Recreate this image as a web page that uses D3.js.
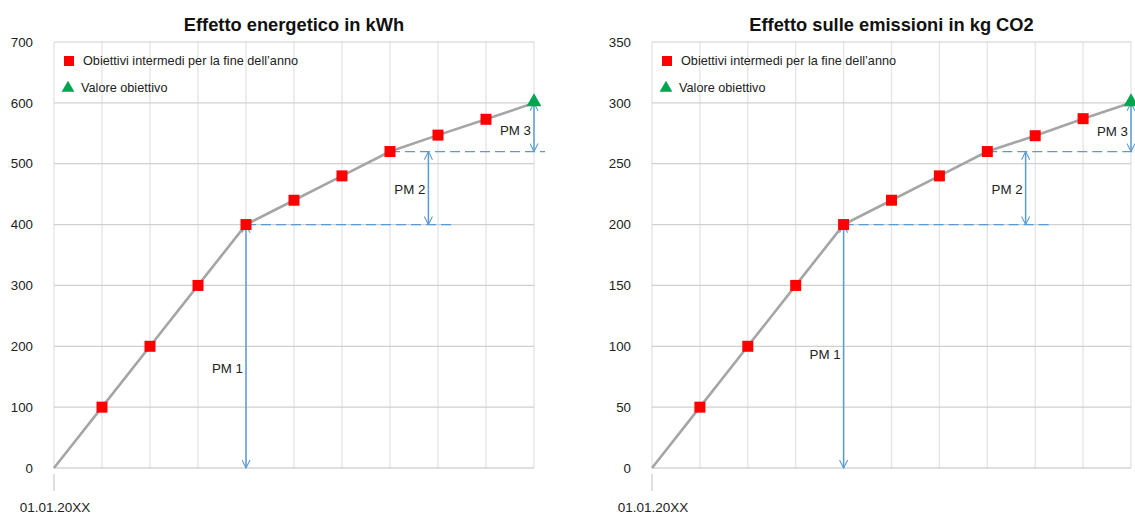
<!DOCTYPE html>
<html lang="it">
<head>
<meta charset="utf-8">
<script src="https://d3js.org/d3.v7.min.js"></script>
<style>
  body { margin: 0; background: #fff; }
  text { font-family: "Liberation Sans", Arial, sans-serif; fill: #222; }
</style>
</head>
<body>
<svg id="main" width="1135" height="515"></svg>
<script>
// data
const steps = [0, 1, 2, 3, 4, 5, 6, 7, 8, 9, 10];
const energyValues = [0, 100, 200, 300, 400, 440, 480, 520, 547, 573, 600];
const co2Values = [0, 50, 100, 150, 200, 220, 240, 260, 273, 287, 300];
const energyTicks = [0, 100, 200, 300, 400, 500, 600, 700];
const co2Ticks = [0, 50, 100, 150, 200, 250, 300, 350];
const titles = ["Effetto energetico in kWh", "Effetto sulle emissioni in kg CO2"];
const legendLabels = ["Obiettivi intermedi per la fine dell\u2019anno", "Valore obiettivo"];
const startLabel = "01.01.20XX";
// milestones: PM1 from step 4, PM2 from 4 to 7, PM3 from 7 to 10
const milestoneLabels = ["PM 1", "PM 2", "PM 3"];

const svg = d3.select("svg#main");
const blue = "#5b9bd5";

svg.append("defs").append("marker")
  .attr("id", "vhead")
  .attr("viewBox", "0 0 10 10")
  .attr("refX", 9).attr("refY", 5)
  .attr("markerWidth", 9).attr("markerHeight", 9)
  .attr("markerUnits", "userSpaceOnUse")
  .attr("orient", "auto-start-reverse")
  .append("path")
  .attr("d", "M0,0.5 L9,5 L0,9.5")
  .attr("fill", "none").attr("stroke", blue).attr("stroke-width", 1.2);

function drawChart(left, right, values, ticks, title, yMax, labelPos, dashEnd) {
  const g = svg.append("g");
  const x = d3.scaleLinear().domain([0, 10]).range([left, right]);
  const y = d3.scaleLinear().domain([0, yMax]).range([468, 42]);

  // vertical grid
  g.selectAll(".vg").data(steps).enter().append("line")
    .attr("x1", d => x(d)).attr("x2", d => x(d))
    .attr("y1", y(0)).attr("y2", y(yMax))
    .attr("stroke", "#e4e4e4").attr("stroke-width", 1.3);

  // horizontal grid
  g.selectAll(".hg").data(ticks).enter().append("line")
    .attr("x1", x(0)).attr("x2", x(10))
    .attr("y1", d => y(d)).attr("y2", d => y(d))
    .attr("stroke", d => d === 0 ? "#bfbfbf" : "#d0d0d0").attr("stroke-width", 1.2);

  // y tick labels
  g.selectAll(".yl").data(ticks).enter().append("text")
    .attr("x", x(0) - 21).attr("y", d => y(d)).attr("dy", "0.35em")
    .attr("text-anchor", "end").attr("font-size", 13.3).text(d => d);

  // x start tick
  g.append("line").attr("x1", x(0)).attr("x2", x(0)).attr("y1", 474).attr("y2", 491)
    .attr("stroke", "#bfbfbf").attr("stroke-width", 1);
  g.append("text").attr("x", x(0) + 1).attr("y", 512).attr("text-anchor", "middle")
    .attr("font-size", 13.5).text(startLabel);

  // title
  g.append("text").attr("x", (left + right) / 2).attr("y", 31).attr("text-anchor", "middle")
    .attr("font-size", 18.3).attr("font-weight", "bold").style("fill", "#111").text(title);

  // dashed milestone lines
  g.append("line").attr("x1", x(4)).attr("x2", x(dashEnd[0])).attr("y1", y(values[4])).attr("y2", y(values[4]))
    .attr("stroke", blue).attr("stroke-width", 1.3).attr("stroke-dasharray", "10,5");
  g.append("line").attr("x1", x(7)).attr("x2", x(dashEnd[1])).attr("y1", y(values[7])).attr("y2", y(values[7]))
    .attr("stroke", blue).attr("stroke-width", 1.3).attr("stroke-dasharray", "10,5");

  // milestone arrows
  const arrows = [[4, 0, values[4]], [7.8, values[4], values[7]], [10, values[7], values[10]]];
  g.selectAll(".arr").data(arrows).enter().append("line")
    .attr("x1", d => x(d[0])).attr("x2", d => x(d[0]))
    .attr("y1", d => y(d[1])).attr("y2", d => y(d[2]))
    .attr("stroke", blue).attr("stroke-width", 1.5)
    .attr("marker-start", "url(#vhead)").attr("marker-end", "url(#vhead)");

  g.selectAll(".pml").data(labelPos).enter().append("text")
    .attr("x", d => x(d[0]) - 3).attr("y", d => y(d[1])).attr("dy", "0.35em")
    .attr("text-anchor", "end").attr("font-size", 13.3)
    .text((d, i) => milestoneLabels[i]);

  // line
  const line = d3.line().x((d, i) => x(steps[i])).y(d => y(d));
  g.append("path").datum(values).attr("d", line)
    .attr("fill", "none").attr("stroke", "#a5a5a5").attr("stroke-width", 2.6);

  // squares
  g.selectAll(".sq").data(values.slice(1, 10)).enter().append("rect")
    .attr("x", (d, i) => x(steps[i + 1]) - 5.5).attr("y", d => y(d) - 5.5)
    .attr("width", 11).attr("height", 11).attr("fill", "#ff0000");

  // target triangle
  g.append("path").attr("d", d3.symbol(d3.symbolTriangle, 95)())
    .attr("transform", `translate(${x(10)},${y(values[10]) - 1})`).attr("fill", "#00a550");

  // legend
  g.append("rect").attr("x", left + 10).attr("y", 56).attr("width", 10).attr("height", 10).attr("fill", "#ff0000");
  g.append("text").attr("x", left + 29).attr("y", 61).attr("dy", "0.35em").attr("font-size", 12.7).text(legendLabels[0]);
  g.append("path").attr("d", d3.symbol(d3.symbolTriangle, 70)())
    .attr("transform", `translate(${left + 14},${88})`).attr("fill", "#00a550");
  g.append("text").attr("x", left + 27).attr("y", 88).attr("dy", "0.35em").attr("font-size", 12.7).text(legendLabels[1]);
}

drawChart(54, 534, energyValues, energyTicks, titles[0], 700,
  [[4, 163], [7.8, 458], [10, 555]], [8.3, 10.23]);
drawChart(652, 1131, co2Values, co2Ticks, titles[1], 350,
  [[4, 93], [7.8, 229], [10, 277]], [8.35, 10.2]);
</script>
</body>
</html>
